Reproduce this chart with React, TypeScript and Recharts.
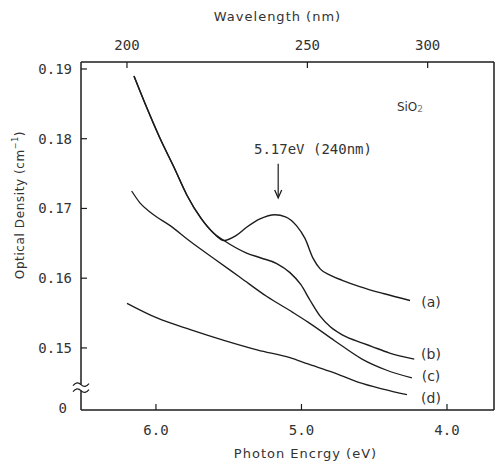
import { Line, LineChart, ReferenceDot, ReferenceLine, XAxis, YAxis } from "recharts";

const INK = "#1c1c1c";
const TEXT = "#333";
const MONO = "'DejaVu Sans Mono', monospace";
const SANS = "'DejaVu Sans', sans-serif";

// axes (photon energy reversed, optical density with a break below 0.15)
const X_DOMAIN: [number, number] = [3.677, 6.515];
const Y_DOMAIN: [number, number] = [0.1411, 0.191];
const energyTicks = [6.0, 5.0, 4.0];
const wavelengthTicks = [200, 250, 300];
const odTicks = [0.1411, 0.15, 0.16, 0.17, 0.18, 0.19];

// curve (a) and (b) share the steep part at high energy
const steepEnergy = [6.151, 6.062, 5.973, 5.876, 5.787, 5.691, 5.601, 5.533];
const steepOd = [0.189, 0.1844, 0.1801, 0.1759, 0.1719, 0.1686, 0.1664, 0.1654];

const curveAEnergy = [5.45, 5.377, 5.285, 5.182, 5.11, 5.033, 4.976, 4.919, 4.87, 4.8, 4.72, 4.6, 4.438, 4.254];
const curveAOd = [0.1661, 0.1673, 0.1685, 0.1691, 0.1688, 0.1675, 0.1657, 0.1628, 0.1613, 0.1604, 0.1597, 0.1588, 0.1578, 0.1568];

const curveBEnergy = [5.377, 5.278, 5.17, 5.079, 5.005, 4.94, 4.873, 4.8, 4.713, 4.58, 4.515, 4.399, 4.225];
const curveBOd = [0.1636, 0.1629, 0.1621, 0.1608, 0.1591, 0.1568, 0.1546, 0.153, 0.1518, 0.1507, 0.1502, 0.1493, 0.1484];

const curveCEnergy = [6.167, 6.11, 6.03, 5.9, 5.766, 5.6, 5.42, 5.24, 5.06, 4.955, 4.77, 4.584, 4.414, 4.241];
const curveCOd = [0.1725, 0.1708, 0.1693, 0.1675, 0.1653, 0.1628, 0.1601, 0.1574, 0.1551, 0.1537, 0.151, 0.1484, 0.1468, 0.1457];

const curveDEnergy = [6.199, 5.993, 5.759, 5.533, 5.299, 5.079, 4.955, 4.784, 4.612, 4.44, 4.275];
const curveDOd = [0.1564, 0.1543, 0.1526, 0.1511, 0.1497, 0.1486, 0.1477, 0.1465, 0.1451, 0.1441, 0.1433];

const curveLabels = ["(a)", "(b)", "(c)", "(d)"];
const curveLabelOd = [0.1566, 0.1491, 0.146, 0.1428];

const toPoints = (e: number[], od: number[]) => e.map((v, i) => ({ e: v, od: od[i] }));

const dataA = toPoints([...steepEnergy, ...curveAEnergy], [...steepOd, ...curveAOd]);
const dataB = toPoints([...steepEnergy, ...curveBEnergy], [...steepOd, ...curveBOd]);
const dataC = toPoints(curveCEnergy, curveCOd);
const dataD = toPoints(curveDEnergy, curveDOd);

const PEAK_E = 5.16;
const nmToEv = (nm: number) => 1239.84 / nm;

function LeftTick({ x, y, payload }: any) {
  const zero = payload.value < 0.145;
  return (
    <g>
      {!zero && <line x1={x + 9} y1={y} x2={x + 15} y2={y} stroke={INK} strokeWidth={1.2} />}
      <text x={zero ? x - 5 : x} y={zero ? y - 2 : y} textAnchor="end" dominantBaseline="central"
        fontFamily={MONO} fontSize={14} fill={TEXT}>
        {zero ? "0" : payload.value.toFixed(2)}
      </text>
    </g>
  );
}

function BottomTick({ x, y, payload }: any) {
  return (
    <g>
      <line x1={x} y1={y} x2={x} y2={y - 6} stroke={INK} strokeWidth={1.2} />
      <text x={x} y={y + 20} textAnchor="middle" dominantBaseline="central"
        fontFamily={MONO} fontSize={14} fill={TEXT}>
        {payload.value.toFixed(1)}
      </text>
    </g>
  );
}

function TopTick({ x, y, payload }: any) {
  return (
    <g>
      <line x1={x} y1={y} x2={x} y2={y + 6} stroke={INK} strokeWidth={1.2} />
      <text x={x} y={y - 17} textAnchor="middle" dominantBaseline="central"
        fontFamily={MONO} fontSize={14} fill={TEXT}>
        {Math.round(1239.84 / payload.value)}
      </text>
    </g>
  );
}

function TopTitle({ viewBox }: any) {
  return (
    <text x={viewBox.x + viewBox.width / 2 - 10} y={16} textAnchor="middle" dominantBaseline="central"
      fontFamily={SANS} fontSize={13} letterSpacing={1} fill={TEXT}>
      Wavelength (nm)
    </text>
  );
}

function BottomTitle({ viewBox }: any) {
  return (
    <text x={viewBox.x + viewBox.width / 2 + 18} y={viewBox.y + 43} textAnchor="middle" dominantBaseline="central"
      fontFamily={SANS} fontSize={13} letterSpacing={1} fill={TEXT}>
      Photon Encrgy (eV)
    </text>
  );
}

function LeftTitle({ viewBox }: any) {
  const cx = 20;
  const cy = viewBox.y + viewBox.height / 2 - 31;
  return (
    <text x={cx} y={cy} transform={`rotate(-90 ${cx} ${cy})`} textAnchor="middle" dominantBaseline="central"
      fontFamily={SANS} fontSize={12} letterSpacing={0.6} fill={TEXT}>
      Optical Density (cm<tspan dy={-5} fontSize={8}>−1</tspan><tspan dy={5}>)</tspan>
    </text>
  );
}

const textAt = (label: string, anchor: "start" | "middle" | "end", size: number, font = SANS) =>
  (p: any) => (
    <text x={p.cx} y={p.cy} textAnchor={anchor} dominantBaseline="central" fontFamily={font}
      fontSize={size} fill={TEXT}>
      {label}
    </text>
  );

export default function App() {
  return (
    <div style={{ position: "absolute", left: 0, top: 0, background: "#fff" }}>
      <LineChart width={497} height={468} margin={{ top: 0, right: 0, bottom: 0, left: 0 }}>
        <XAxis
          dataKey="e"
          type="number"
          domain={X_DOMAIN}
          allowDataOverflow
          reversed
          ticks={energyTicks}
          height={58}
          tickSize={0}
          tickMargin={0}
          tickLine={false}
          axisLine={{ stroke: INK, strokeWidth: 1.5 }}
          tick={<BottomTick />}
          label={<BottomTitle />}
        />
        <XAxis
          xAxisId="top"
          orientation="top"
          dataKey="e"
          type="number"
          domain={X_DOMAIN}
          allowDataOverflow
          reversed
          ticks={wavelengthTicks.map(nmToEv)}
          height={62}
          tickSize={0}
          tickMargin={0}
          tickLine={false}
          axisLine={{ stroke: INK, strokeWidth: 1.5 }}
          tick={<TopTick />}
          label={<TopTitle />}
        />
        <YAxis
          type="number"
          domain={Y_DOMAIN}
          allowDataOverflow
          ticks={odTicks}
          width={81}
          tickSize={0}
          tickMargin={9}
          tickLine={false}
          axisLine={{ stroke: INK, strokeWidth: 1.5 }}
          tick={<LeftTick />}
          label={<LeftTitle />}
        />
        <YAxis
          yAxisId="right"
          orientation="right"
          type="number"
          domain={Y_DOMAIN}
          allowDataOverflow
          width={3}
          tick={false}
          tickLine={false}
          axisLine={{ stroke: INK, strokeWidth: 1.5 }}
        />

        <Line data={dataA} dataKey="od" type="monotone" stroke={INK} strokeWidth={1.4} dot={false} isAnimationActive={false} />
        <Line data={dataB} dataKey="od" type="monotone" stroke={INK} strokeWidth={1.4} dot={false} isAnimationActive={false} />
        <Line data={dataC} dataKey="od" type="monotone" stroke={INK} strokeWidth={1.3} dot={false} isAnimationActive={false} />
        <Line data={dataD} dataKey="od" type="monotone" stroke={INK} strokeWidth={1.3} dot={false} isAnimationActive={false} />
        {/* invisible copy so the wavelength axis has a series to scale */}
        <Line data={dataD} dataKey="od" xAxisId="top" yAxisId="right" stroke="none" dot={false} activeDot={false}
          legendType="none" isAnimationActive={false} />

        {/* axis break */}
        <ReferenceDot
          x={X_DOMAIN[1]}
          y={0.1443}
          r={0}
          ifOverflow="visible"
          shape={(p: any) => (
            <g>
              <rect x={p.cx - 3} y={p.cy - 3} width={6} height={6} fill="#fff" />
              <path d={`M${p.cx - 8},${p.cy - 2} q4,-5 8,-1 t8,-1`} fill="none" stroke={INK} strokeWidth={1.2} />
              <path d={`M${p.cx - 8},${p.cy + 4} q4,-5 8,-1 t8,-1`} fill="none" stroke={INK} strokeWidth={1.2} />
            </g>
          )}
        />

        {/* 5.17 eV band annotation */}
        <ReferenceLine
          segment={[{ x: PEAK_E, y: 0.1764 }, { x: PEAK_E, y: 0.1717 }]}
          stroke={INK}
          strokeWidth={1.2}
          ifOverflow="visible"
        />
        <ReferenceDot
          x={PEAK_E}
          y={0.1715}
          r={0}
          ifOverflow="visible"
          shape={(p: any) => (
            <path d={`M${p.cx - 3.5},${p.cy - 8} L${p.cx},${p.cy} L${p.cx + 3.5},${p.cy - 8}`} fill="none"
              stroke={INK} strokeWidth={1.3} />
          )}
        />
        <ReferenceDot x={4.921} y={0.1785} r={0} ifOverflow="visible" shape={textAt("5.17eV (240nm)", "middle", 14, MONO)} />

        <ReferenceDot
          x={4.344}
          y={0.1846}
          r={0}
          ifOverflow="visible"
          shape={(p: any) => (
            <text x={p.cx} y={p.cy} dominantBaseline="central" fontFamily={SANS} fontSize={12} fill={TEXT}>
              SiO<tspan fontSize={9} dy={2} fill="#777">2</tspan>
            </text>
          )}
        />

        {curveLabels.map((lab, i) => (
          <ReferenceDot key={lab} x={4.11} y={curveLabelOd[i]} r={0} ifOverflow="visible"
            shape={textAt(lab, "middle", 14)} />
        ))}
      </LineChart>
    </div>
  );
}
